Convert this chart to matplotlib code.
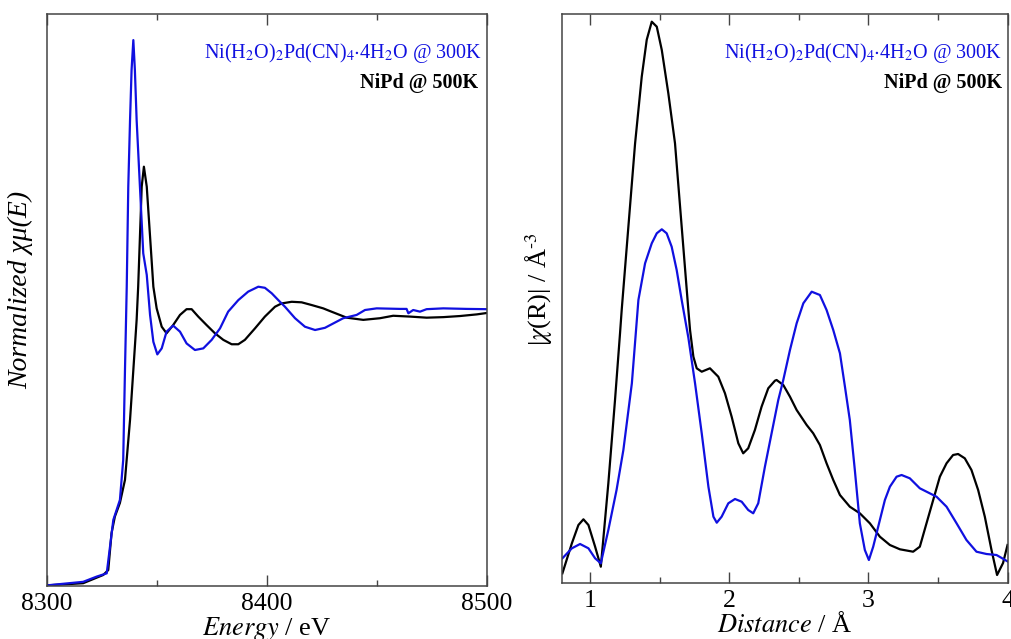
import matplotlib
matplotlib.use('Agg')
import matplotlib.pyplot as plt
from matplotlib.ticker import MultipleLocator

plt.rcParams['font.family'] = ['Liberation Serif', 'DejaVu Serif']
plt.rcParams['mathtext.fontset'] = 'stix'

# XANES (left)
energy_black = [8300, 8316.6, 8325.7, 8328.0, 8329.5, 8331.0, 8333.3, 8335.6, 8337.9, 8339.4,
                8340.9, 8341.6, 8343.2, 8344.2, 8345.5, 8347.0, 8348.5, 8350.0, 8352.3, 8354.5,
                8357.5, 8360.6, 8363.6, 8365.9, 8368.9, 8372.7, 8376.5, 8380.3, 8384.1, 8387.1,
                8390.1, 8394.7, 8399.2, 8403.8, 8406.8, 8411.4, 8415.9, 8420.5, 8425.7, 8428.8,
                8436.4, 8443.9, 8451.5, 8457.5, 8465.1, 8472.7, 8480.3, 8487.9, 8495.5, 8500]
mu_black = [-0.005, 0.003, 0.033, 0.051, 0.186, 0.246, 0.296, 0.380, 0.599, 0.781,
            0.964, 1.085, 1.450, 1.523, 1.450, 1.268, 1.085, 1.006, 0.939, 0.915,
            0.945, 0.982, 1.003, 1.003, 0.976, 0.945, 0.915, 0.891, 0.875, 0.875,
            0.891, 0.933, 0.976, 1.012, 1.024, 1.030, 1.028, 1.018, 1.006, 0.996,
            0.972, 0.964, 0.970, 0.979, 0.976, 0.972, 0.974, 0.978, 0.984, 0.989]

energy_blue = [8300, 8316.6, 8322.7, 8327.3, 8330.3, 8333.3, 8334.8, 8335.6, 8336.4, 8337.1,
               8337.9, 8338.6, 8339.4, 8340.1, 8340.9, 8342.4, 8343.9, 8345.5, 8347.0, 8348.5,
               8350.3, 8352.3, 8354.5, 8357.5, 8360.6, 8363.6, 8367.4, 8371.2, 8375.0, 8378.8,
               8382.5, 8387.1, 8391.6, 8396.2, 8399.2, 8402.3, 8405.3, 8408.3, 8412.9, 8417.4,
               8422.0, 8426.5, 8434.8, 8440.9, 8444.7, 8450.0, 8460.6, 8463.6, 8464.4, 8466.6,
               8469.7, 8472.7, 8480.3, 8490.9, 8500]
mu_blue = [-0.005, 0.008, 0.027, 0.039, 0.234, 0.307, 0.453, 0.781, 1.085, 1.450,
           1.693, 1.876, 1.985, 1.876, 1.693, 1.450, 1.207, 1.128, 0.982, 0.884,
           0.838, 0.860, 0.921, 0.943, 0.921, 0.878, 0.854, 0.860, 0.891, 0.933,
           0.994, 1.036, 1.067, 1.085, 1.081, 1.061, 1.036, 1.012, 0.970, 0.939,
           0.927, 0.935, 0.970, 0.982, 1.000, 1.006, 1.004, 1.004, 0.988, 1.000,
           0.994, 1.003, 1.006, 1.004, 1.003]

# Fourier transform magnitude (right)
r_black = [0.801, 0.869, 0.916, 0.952, 0.988, 1.036, 1.077, 1.131, 1.179, 1.215,
           1.227, 1.275, 1.323, 1.371, 1.407, 1.443, 1.479, 1.515, 1.562, 1.610,
           1.658, 1.706, 1.718, 1.742, 1.766, 1.802, 1.861, 1.921, 1.969, 2.017,
           2.065, 2.100, 2.136, 2.184, 2.232, 2.280, 2.328, 2.340, 2.388, 2.436,
           2.484, 2.556, 2.603, 2.651, 2.699, 2.747, 2.795, 2.866, 2.938, 3.010,
           3.082, 3.154, 3.226, 3.321, 3.369, 3.417, 3.465, 3.513, 3.561, 3.608,
           3.644, 3.692, 3.740, 3.788, 3.836, 3.884, 3.924, 3.967, 3.999]
chi_black = [0.094, 0.394, 0.577, 0.634, 0.577, 0.360, 0.160, 0.994, 1.827, 2.494,
             2.727, 3.560, 4.390, 5.060, 5.430, 5.610, 5.560, 5.327, 4.894, 4.394,
             3.560, 2.727, 2.527, 2.260, 2.144, 2.110, 2.144, 2.060, 1.894, 1.660,
             1.394, 1.294, 1.344, 1.527, 1.760, 1.944, 2.020, 2.027, 1.977, 1.860,
             1.727, 1.577, 1.494, 1.377, 1.194, 1.027, 0.877, 0.760, 0.694, 0.594,
             0.460, 0.377, 0.334, 0.310, 0.360, 0.594, 0.827, 1.060, 1.194, 1.277,
             1.287, 1.244, 1.127, 0.927, 0.660, 0.327, 0.077, 0.197, 0.377]

r_blue = [0.801, 0.869, 0.928, 0.988, 1.036, 1.077, 1.131, 1.190, 1.239, 1.300,
          1.347, 1.395, 1.443, 1.479, 1.515, 1.550, 1.586, 1.622, 1.658, 1.706,
          1.754, 1.802, 1.850, 1.886, 1.910, 1.945, 1.993, 2.041, 2.089, 2.136,
          2.172, 2.208, 2.256, 2.304, 2.352, 2.388, 2.436, 2.484, 2.532, 2.592,
          2.651, 2.699, 2.747, 2.795, 2.831, 2.866, 2.902, 2.938, 2.974, 3.003,
          3.034, 3.082, 3.118, 3.154, 3.202, 3.238, 3.297, 3.369, 3.489, 3.561,
          3.633, 3.704, 3.776, 3.848, 3.920, 4.003]
chi_blue = [0.244, 0.344, 0.387, 0.344, 0.244, 0.194, 0.527, 0.927, 1.327, 1.994,
            2.827, 3.194, 3.394, 3.494, 3.534, 3.494, 3.360, 3.127, 2.827, 2.450,
            1.994, 1.494, 0.960, 0.660, 0.600, 0.660, 0.794, 0.837, 0.810, 0.727,
            0.694, 0.794, 1.160, 1.494, 1.827, 2.027, 2.327, 2.594, 2.794, 2.910,
            2.877, 2.727, 2.527, 2.294, 1.960, 1.627, 1.127, 0.594, 0.327, 0.227,
            0.360, 0.627, 0.827, 0.960, 1.060, 1.077, 1.044, 0.944, 0.860, 0.760,
            0.594, 0.427, 0.310, 0.287, 0.277, 0.210]

label_blue = r'Ni(H$_2$O)$_2$Pd(CN)$_4$$\cdot$4H$_2$O @ 300K'
label_black = 'NiPd @ 500K'
blue = '#1010e0'

fig = plt.figure(figsize=(10.12, 6.39), dpi=100)
ax1 = fig.add_axes([0.0461, 0.0829, 0.4348, 0.8951])
ax2 = fig.add_axes([0.5556, 0.0881, 0.4401, 0.8900])

ax1.plot(energy_black, mu_black, color='black', lw=1.6)
ax1.plot(energy_blue, mu_blue, color=blue, lw=1.6)
ax1.set_xlim(8300, 8500)
ax1.set_ylim(-0.0073, 2.08)
ax1.xaxis.set_major_locator(MultipleLocator(100))
ax1.xaxis.set_minor_locator(MultipleLocator(50))
ax1.set_xlabel(r'$\mathit{Energy}$ / eV', fontsize=19, labelpad=0)
ax1.set_ylabel('Normalized χμ(E)', fontsize=20, style='italic')
ax1.yaxis.set_label_coords(-0.031, 0.517)

ax2.plot(r_black, chi_black, color='black', lw=1.6)
ax2.plot(r_blue, chi_blue, color=blue, lw=1.6)
ax2.set_xlim(0.8, 4.0)
ax2.set_ylim(0, 5.687)
ax2.xaxis.set_major_locator(MultipleLocator(1))
ax2.xaxis.set_minor_locator(MultipleLocator(0.5))
ax2.set_xlabel(r'$\mathit{Distance}$ / Å', fontsize=19, labelpad=0)
ax2.set_ylabel(r'|$\chi$(R)| / Å$^{\text{-3}}$', fontsize=19)
ax2.yaxis.set_label_coords(-0.016, 0.516)

for ax, bx, kx in [(ax1, 0.989, 0.981), (ax2, 0.987, 0.987)]:
    ax.set_yticks([])
    ax.tick_params(axis='x', which='both', direction='in', top=True, labelsize=18.5, pad=5)
    ax.tick_params(axis='x', which='major', length=8, width=1, color='#444444')
    ax.tick_params(axis='x', which='minor', length=4, width=1, color='#444444')
    for s in ax.spines.values():
        s.set_color('#444444')
        s.set_linewidth(1.1)
    ax.text(bx, 0.932, label_blue, color=blue, fontsize=14.5, ha='right', va='center',
            transform=ax.transAxes)
    ax.text(kx, 0.879, label_black, color='black', fontsize=14.5, fontweight='bold',
            ha='right', va='center', transform=ax.transAxes)

fig.savefig('out.png', dpi=100)
